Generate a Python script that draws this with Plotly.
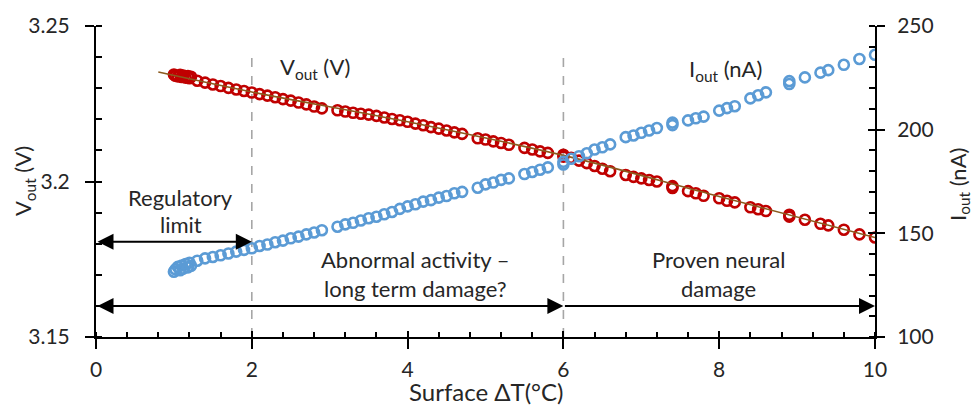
import plotly.graph_objects as go

# ---------------- data ----------------
delta_t = [1.00, 1.02, 1.05, 1.08, 1.10, 1.12, 1.15, 1.18, 1.20, 1.22,
           1.30, 1.40, 1.50, 1.60, 1.70, 1.80, 1.90, 2.00, 2.10, 2.20,
           2.30, 2.40, 2.50, 2.60, 2.70, 2.80, 2.90, 3.10, 3.20, 3.30,
           3.40, 3.50, 3.60, 3.70, 3.80, 3.90, 4.00, 4.10, 4.20, 4.30,
           4.40, 4.50, 4.60, 4.70, 4.90, 5.00, 5.10, 5.20, 5.30, 5.50,
           5.60, 5.70, 5.80, 6.00, 6.00, 6.10, 6.20, 6.30, 6.40, 6.50,
           6.60, 6.80, 6.90, 7.00, 7.10, 7.20, 7.40, 7.40, 7.60, 7.70,
           7.80, 8.00, 8.10, 8.20, 8.40, 8.50, 8.60, 8.90, 8.90, 9.10,
           9.30, 9.40, 9.60, 9.80, 10.00]

v_out = [3.2344, 3.2340, 3.2338, 3.2343, 3.2336, 3.2341, 3.2334, 3.2339, 3.2332, 3.2337,
         3.2324, 3.2318, 3.2312, 3.2307, 3.2301, 3.2296, 3.2291, 3.2286, 3.2281, 3.2276,
         3.2271, 3.2265, 3.2260, 3.2254, 3.2248, 3.2241, 3.2235, 3.2229, 3.2225, 3.2221,
         3.2218, 3.2215, 3.2211, 3.2206, 3.2201, 3.2197, 3.2192, 3.2186, 3.2181, 3.2175,
         3.2170, 3.2164, 3.2158, 3.2153, 3.2139, 3.2135, 3.2129, 3.2124, 3.2118, 3.2108,
         3.2103, 3.2097, 3.2092, 3.2086, 3.2080, 3.2076, 3.2067, 3.2059, 3.2050, 3.2041,
         3.2033, 3.2021, 3.2015, 3.2010, 3.2005, 3.2000, 3.1985, 3.1979, 3.1969, 3.1962,
         3.1954, 3.1946, 3.1938, 3.1933, 3.1917, 3.1911, 3.1905, 3.1893, 3.1887, 3.1877,
         3.1864, 3.1859, 3.1845, 3.1830, 3.1820]

i_out = [131.5, 132.6, 133.8, 132.2, 134.5, 133.0, 135.2, 133.6, 135.8, 134.4,
         136.8, 137.9, 138.6, 139.4, 140.3, 141.2, 142.0, 142.8, 143.9, 144.6,
         145.7, 146.5, 147.6, 148.4, 149.5, 150.4, 151.5, 153.2, 154.3, 155.1,
         156.2, 157.3, 158.0, 159.2, 160.3, 161.8, 163.0, 164.0, 165.3, 166.0,
         167.2, 168.0, 169.3, 170.0, 172.0, 173.6, 174.5, 175.8, 176.5, 178.6,
         179.6, 180.7, 181.8, 183.2, 184.5, 186.0, 187.2, 188.6, 190.4, 191.5,
         192.9, 196.4, 197.2, 198.5, 199.6, 200.8, 202.2, 203.4, 204.5, 205.5,
         206.3, 209.2, 210.4, 211.3, 215.1, 216.6, 218.0, 222.0, 223.4, 225.2,
         227.5, 228.7, 231.3, 234.1, 236.1]

trend_x = [0.8, 2.0, 4.0, 6.0, 8.0, 10.0]
trend_v = [3.2352, 3.2288, 3.2192, 3.2084, 3.1952, 3.1820]

x_ticks = [0, 2, 4, 6, 8, 10]
v_ticks = [3.15, 3.2, 3.25]
v_tick_text = ["3.15", "3.2", "3.25"]
i_ticks = [100, 150, 200, 250]

zone_bounds = [2, 6]

# ---------------- styling ----------------
FONT = "Lato, 'Open Sans', sans-serif"
RED = "#C00000"
BLUE = "#5B9BD5"
BROWN = "#8B5A1E"
TXT = "#262626"

fig = go.Figure()

fig.add_trace(go.Scatter(
    x=delta_t, y=v_out, mode="markers", name="Vout",
    marker=dict(symbol="circle-open", size=10, color=RED, line=dict(width=2.6, color=RED)),
    showlegend=False, xaxis="x", yaxis="y"))
fig.add_trace(go.Scatter(
    x=trend_x, y=trend_v, mode="lines", line=dict(color=BROWN, width=1.6, shape="spline"),
    showlegend=False, hoverinfo="skip", xaxis="x", yaxis="y"))
fig.add_trace(go.Scatter(
    x=delta_t, y=i_out, mode="markers", name="Iout",
    marker=dict(symbol="circle-open", size=10, color=BLUE, line=dict(width=2.6, color=BLUE)),
    showlegend=False, xaxis="x", yaxis="y2"))

# dummy traces to activate the overlay axes used for the inner half of major ticks
for xa, ya, yv in [("x3", "y", 3.2), ("x", "y3", 3.2), ("x", "y4", 200)]:
    fig.add_trace(go.Scatter(x=[5], y=[yv], mode="markers", marker=dict(opacity=0),
                             showlegend=False, hoverinfo="skip", xaxis=xa, yaxis=ya))

tickfont = dict(family=FONT, size=21, color=TXT)

fig.update_layout(
    width=974, height=407,
    margin=dict(l=96, r=99, t=21, b=70),
    paper_bgcolor="white", plot_bgcolor="white",
    font=dict(family=FONT, color=TXT),
    xaxis=dict(range=[0, 10], tickvals=x_ticks, showgrid=False, zeroline=False,
               showline=True, linecolor="black", linewidth=2,
               ticks="outside", ticklen=10, tickwidth=2, tickcolor="black",
               minor=dict(dtick=0.4, ticks="inside", ticklen=5, tickwidth=2, tickcolor="black", showgrid=False),
               tickfont=tickfont, ticklabelstandoff=3),
    xaxis3=dict(range=[0, 10], overlaying="x", anchor="y", side="bottom", tickvals=x_ticks,
                showticklabels=False, showgrid=False, zeroline=False, showline=False,
                ticks="inside", ticklen=6, tickwidth=2, tickcolor="black"),
    yaxis=dict(range=[3.15, 3.25], tickvals=v_ticks, ticktext=v_tick_text, showgrid=False, zeroline=False,
               showline=True, linecolor="black", linewidth=2,
               ticks="outside", ticklen=9, tickwidth=2, tickcolor="black",
               minor=dict(dtick=0.01, ticks="inside", ticklen=6, tickwidth=2, tickcolor="black", showgrid=False),
               tickfont=tickfont, ticklabelstandoff=11),
    yaxis3=dict(range=[3.15, 3.25], overlaying="y", anchor="x", side="left", tickvals=v_ticks,
                showticklabels=False, showgrid=False, zeroline=False, showline=False,
                ticks="inside", ticklen=6, tickwidth=2, tickcolor="black"),
    yaxis2=dict(range=[100, 250], overlaying="y", side="right", anchor="x", tickvals=i_ticks,
                showgrid=False, zeroline=False,
                showline=True, linecolor="black", linewidth=2,
                ticks="outside", ticklen=8, tickwidth=2, tickcolor="black",
                minor=dict(dtick=10, ticks="inside", ticklen=6, tickwidth=2, tickcolor="black", showgrid=False),
                tickfont=tickfont, ticklabelstandoff=8),
    yaxis4=dict(range=[100, 250], overlaying="y", side="right", anchor="x", tickvals=i_ticks,
                showticklabels=False, showgrid=False, zeroline=False, showline=False,
                ticks="inside", ticklen=7, tickwidth=2, tickcolor="black"),
)

# vertical dashed boundaries
for b in zone_bounds:
    fig.add_shape(type="line", xref="x", yref="y", x0=b, x1=b, y0=3.15, y1=3.2418,
                  line=dict(color="#A6A6A6", width=1.6, dash="dash"), layer="below")

# arrows
arrow_specs = [
    (0, 2, 3.1806, "end+start"),
    (0, 6, 3.16, "end+start"),
    (6, 10, 3.16, "end"),
]
for x0, x1, yy, side in arrow_specs:
    fig.add_annotation(x=x1, y=yy, ax=x0, ay=yy, xref="x", yref="y", axref="x", ayref="y",
                       text="", showarrow=True, arrowhead=2, arrowsize=1.6, arrowwidth=2,
                       arrowcolor="black", arrowside=side, startarrowhead=2, startarrowsize=1.6)

labfont = dict(family=FONT, size=22, color=TXT)
text_labels = [
    (2.81, 3.2366, "V<sub>out</sub> (V)"),
    (8.08, 3.2360, "I<sub>out</sub> (nA)"),
    (1.09, 3.1947, "Regulatory"),
    (1.09, 3.1862, "limit"),
    (4.10, 3.1750, "Abnormal activity –"),
    (4.10, 3.1655, "long term damage?"),
    (7.99, 3.1750, "Proven neural"),
    (7.99, 3.1655, "damage"),
]
for xx, yy, t in text_labels:
    fig.add_annotation(x=xx, y=yy, xref="x", yref="y", text=t, showarrow=False, font=labfont,
                       xanchor="center", yanchor="middle")

# axis titles
titlefont = dict(family=FONT, size=22, color=TXT)
fig.add_annotation(x=-0.093, y=0.50, xref="paper", yref="paper", text="V<sub>out</sub> (V)",
                   textangle=-90, showarrow=False, font=titlefont, xanchor="center", yanchor="middle")
fig.add_annotation(x=1.107, y=0.49, xref="paper", yref="paper", text="I<sub>out</sub> (nA)",
                   textangle=-90, showarrow=False, font=titlefont, xanchor="center", yanchor="middle")
fig.add_annotation(x=0.5, y=-0.176, xref="paper", yref="paper", text="Surface ΔT(°C)",
                   showarrow=False, font=dict(family=FONT, size=24, color=TXT),
                   xanchor="center", yanchor="middle")

fig.write_html("out.html")
